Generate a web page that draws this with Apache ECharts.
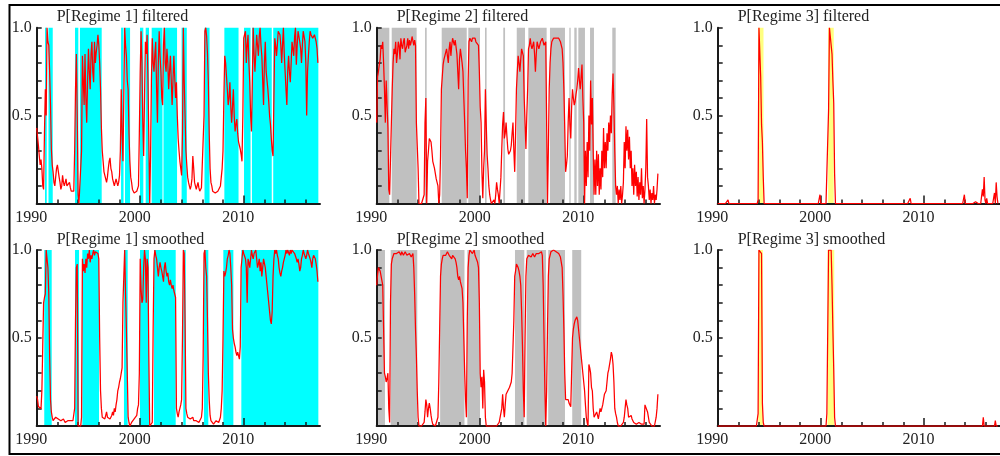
<!DOCTYPE html>
<html><head><meta charset="utf-8">
<script src="https://cdn.jsdelivr.net/npm/echarts@6/dist/echarts.min.js"></script>
<style>html,body{margin:0;padding:0;background:#fff}#c{width:1000px;height:456px}</style>
</head><body><div id="c"></div>
<script>
// ---- data (monthly, Jan 1990 .. Mar 2017) ----
const startYear = 1990;
const xTickYears = [1992,1994,1996,1998,2000,2002,2004,2006,2008,2010,2012,2014,2016];
const xMajorYears = [1990,2000,2010];
const yTickValues = [0.1,0.2,0.3,0.4,0.5,0.6,0.7,0.8,0.9,1.0];
const yLabelValues = [0.5,1.0];
const panelTitles = ['P[Regime 1] filtered','P[Regime 2] filtered','P[Regime 3] filtered',
                     'P[Regime 1] smoothed','P[Regime 2] smoothed','P[Regime 3] smoothed'];

const p1Filtered = [
 .43,.38,.33,.27,.22,.25,.2,.1,.08,.4,.65,.5,
 1.0,.92,.9,.75,.56,.31,.22,.18,.12,.1,.15,.2,
 .22,.21,.15,.12,.08,.1,.16,.12,.1,.12,.14,.1,
 .09,.11,.12,.09,.07,.08,.08,.07,.3,.65,.85,.5,
 .05,0,0,0,.3,.84,.7,.56,.85,.6,.46,.7,
 .88,.75,.65,.85,.92,.75,.69,.92,.8,.86,.9,.96,
 .9,.8,.65,.43,.3,.24,.18,.16,.14,.12,.15,.2,
 .24,.26,.2,.18,.14,.12,.1,.12,.14,.12,.1,.12,
 .16,.3,.65,.4,.24,.6,1.0,.9,.84,.7,.65,.4,
 .24,.15,.12,.08,.07,.06,.07,.07,.07,.08,.1,.4,
 .75,.98,.8,.46,.27,.6,.92,.85,.96,.7,.37,0,
 .27,.7,.94,.8,.75,.85,.92,.65,.46,.8,.98,.84,
 .75,.6,.56,.9,1.0,.8,.75,.88,.8,.65,.75,.84,
 .7,.56,.7,.84,.84,.6,.69,.5,.37,.3,.24,.2,
 .16,.4,1.0,.7,.5,.3,.22,.15,.12,.1,.08,.1,
 .14,.27,.2,.12,.1,.08,.1,.12,.09,.07,.08,.09,
 .08,.09,.5,.98,1.0,.95,.85,.69,.4,.2,.12,.1,
 .07,.06,.06,.06,.06,.07,.07,.07,.08,.1,.15,.2,
 .3,.6,.84,.8,.79,.65,.56,.6,.69,.55,.46,.55,
 .65,.5,.41,.45,.48,.4,.35,.33,.31,.28,.24,.5,
 .94,.96,.98,.8,.9,.96,.8,.69,.5,.41,.7,1.0,
 .85,.75,.85,.96,.9,.84,.95,1.0,.9,.84,.7,.56,
 .8,.92,.75,.7,.65,.58,.5,.45,.37,.3,.27,.6,
 .94,.9,.84,.9,.98,.97,.96,.9,.8,.9,1.0,.85,
 .75,.65,.56,.75,.84,.75,.69,.8,.92,.88,.84,.95,
 1.0,.79,.9,.98,.95,.92,.88,.8,.9,.98,.95,.92,
 .8,.5,.75,.84,.92,.98,.96,.95,.94,.95,.96,.94,
 .92,.88,.8
];
const p2Filtered = [
 .46,.72,.75,.79,.82,.9,.88,.92,.8,.65,.46,.7,
 .56,.43,.08,.05,.06,.46,.65,.8,.88,.85,.92,.8,
 .85,.92,.9,.82,.94,.9,.88,.92,.94,.86,.86,.9,
 .94,.88,.93,.9,.92,.95,.94,.9,.93,.9,.46,.33,
 .2,0,0,0,0,0,0,.05,.46,.6,0,.24,
 .3,.37,.36,.35,.3,.24,.22,.2,.17,.14,.12,.1,
 0,.05,.27,.65,.72,.79,.82,.84,.86,.88,.84,.8,
 .88,.92,.84,.9,.94,.92,.9,.93,.92,.85,.75,.65,
 .82,.88,.84,.8,.75,.6,.46,.3,.2,.03,.7,.92,
 .94,.93,.92,.94,.95,.94,.94,.92,.93,.92,.9,.75,
 .55,.46,.18,.03,.2,.3,.65,.45,.28,.2,.1,.05,
 .02,0,0,0,.02,0,.05,.12,.08,.05,0,0,
 .15,.31,.45,.52,.37,.4,.46,.38,.31,.28,.27,.3,
 .33,.4,.46,.3,.18,.4,.65,.75,.84,.8,.75,.82,
 .88,.86,.84,.6,.46,.31,.5,.65,.88,.9,.94,.9,
 .88,.9,.92,.85,.75,.85,.92,.9,.88,.9,.92,.93,
 .94,.92,.9,.91,.92,.46,0,.3,.65,.8,.88,.92,
 .93,.94,.94,.95,.94,.93,.94,.94,.93,.92,.9,.88,
 .8,.65,.43,.18,.22,.27,.46,.6,.45,.37,.55,.65,
 .6,.56,.58,.62,.65,.7,.77,.7,.65,.72,.79,.6,
 .46,0,.3,.1,.35,.15,.5,.3,.7,.45,.6,.3,
 .05,.25,.05,.3,.1,.28,.05,.2,.08,.3,.15,.43,
 .2,.35,.2,.4,.3,.46,.35,.5,.4,.62,.74,.55,
 .3,.1,.05,.1,0,.08,.02,.1,0,.05,.12,.35,
 .2,.44,.3,.42,.25,.38,.2,.3,.1,.2,.05,.22,
 .1,.18,.04,.15,.02,.12,.05,.2,.03,.1,0,.08,
 .2,.48,.15,.1,.02,.08,0,.06,.02,.1,0,.05,
 .02,.08,.17
];
const p3Filtered = [
 0,0,0,0,0,0,0,0,0,0,0,0,
 .02,0,0,0,0,0,0,0,0,0,0,0,
 0,0,0,0,0,0,0,0,0,0,0,0,
 0,0,0,0,0,0,0,0,0,0,0,.02,
 1,1,.72,.45,.35,.15,0,0,0,0,0,0,
 0,0,0,0,0,0,0,0,0,0,0,0,
 0,0,0,0,0,0,0,0,0,0,0,0,
 0,0,0,0,0,0,0,0,0,0,0,0,
 0,0,0,0,0,0,0,0,0,0,0,0,
 0,0,0,0,0,0,0,0,0,0,0,.05,
 0,0,0,0,0,0,0,0,0,.53,1,1,
 1,.85,.7,.57,.17,0,0,0,0,0,0,0,
 0,0,0,0,0,0,0,0,0,0,0,0,
 0,0,0,0,.01,0,0,0,0,0,0,0,
 0,0,0,0,0,0,0,0,0,0,0,0,
 0,0,0,0,0,0,0,0,0,0,0,0,
 0,0,0,0,0,0,0,0,0,0,0,0,
 0,0,0,0,0,0,0,0,0,0,0,0,
 0,0,0,0,0,0,0,0,.03,0,0,0,
 0,0,0,0,0,0,0,0,0,0,0,0,
 0,0,0,0,0,0,0,0,0,0,0,0,
 0,0,0,0,0,0,0,.01,0,0,0,0,
 0,0,0,0,0,0,0,0,0,0,0,0,
 0,0,0,0,0,0,0,0,0,0,0,.05,
 0,0,0,0,0,0,0,0,0,0,0,0,
 .01,0,0,0,.01,0,0,0,.08,.04,.15,.02,
 0,.03,0,0,0,0,0,0,0,0,.06,0,
 .12,.04,0
];
const p1Smoothed = [
 .17,.15,.11,.1,.1,.1,.2,.45,.7,.73,.75,1.0,
 1.0,.9,.75,.4,.15,.08,.05,.03,.02,.03,.05,.04,
 .05,.04,.03,.04,.03,.02,.03,.04,.03,.02,.03,.03,
 .03,.03,.02,.03,.04,.03,.03,.02,.1,.6,.9,.92,
 0,0,0,0,.05,.95,.88,.92,.87,.95,.9,.98,
 .95,1.0,.93,.97,.95,.98,1.0,.97,.99,1.0,1.0,.98,
 .95,.5,.2,.1,.05,.04,.05,.04,.06,.08,.05,.04,
 .05,.04,.05,.06,.08,.06,.1,.08,.12,.15,.2,.22,
 .25,.27,.3,.33,.7,.85,1.0,.75,.55,.3,.05,.02,
 0,.01,.02,.03,.02,.04,.05,.04,.06,.1,.12,.3,
 .95,.78,.7,.72,.9,1.0,.95,.7,.95,.9,.4,0,
 0,0,.02,.55,.95,1.0,.97,.95,.9,.85,.9,.93,
 .9,.88,.85,.82,.9,.93,.88,.85,.87,.82,.8,.83,
 .8,.78,.8,.77,.75,.73,.1,.07,.05,.08,.1,.12,
 .15,.5,1.0,.98,.6,.1,.07,.05,.04,.05,.04,.05,
 .04,.05,.03,.04,.02,.03,.04,.03,.02,.03,.02,.05,
 .1,.4,.98,1.0,.9,.85,.6,.3,.15,.06,.03,.02,
 .02,.01,.02,.02,.03,.02,.03,.02,.03,.05,.1,.2,
 .5,.88,.85,.87,.9,.95,.97,1.0,.98,.9,.8,.55,
 .5,.47,.45,.42,.4,.42,.4,.38,.45,.9,.95,1.0,
 .98,.97,.95,.9,.7,.95,.93,.9,.95,1.0,.97,.95,
 .98,.97,1.0,.95,.9,.92,.95,.88,.93,.85,.9,.95,
 .95,.9,.85,.8,.75,.7,.65,.6,.58,.65,.85,.95,
 1.0,.98,1.0,.97,.95,.9,.87,.85,.88,.9,.93,.95,
 .97,1.0,.98,1.0,.99,.97,1.0,.98,1.0,.99,1.0,.98,
 .97,.95,.93,.95,.92,.88,.9,.95,.97,1.0,.98,.97,
 .95,.97,1.0,.98,.97,.95,.93,.9,.95,.97,.98,.95,
 .92,.88,.82
];
const p2Smoothed = [
 .8,.86,.9,.9,.88,.89,.88,.8,.55,.3,.28,.25,
 .27,.3,.1,.02,.7,.92,.95,.96,.98,.97,.99,.98,
 .97,.98,.99,.98,.97,.99,.98,.97,.98,.99,.98,.97,
 .98,.97,.98,.97,.96,.97,.98,.9,.75,.55,.4,.2,
 .05,0,0,0,0,0,0,.02,.08,.15,.12,.05,
 .1,.13,.1,.06,.03,.01,0,0,0,0,0,.05,
 .25,.55,.85,.92,.95,.97,.98,.96,.97,.98,.99,.98,
 .97,.98,.96,.95,.97,.98,.96,.95,.93,.9,.85,.83,
 .85,.82,.8,.78,.7,.5,.3,.15,.05,.6,.9,.97,
 1.0,.99,1.0,.98,.99,1.0,.97,.98,.96,.93,.9,.7,
 .3,.22,.28,.1,.32,.25,.05,0,0,0,0,0,
 0,0,0,0,0,0,0,0,0,.01,.02,.01,
 .02,.1,.18,.1,.05,.12,.18,.19,.2,.21,.22,.23,
 .25,.3,.45,.6,.85,.88,.92,.91,.9,.88,.85,.8,
 .65,.45,.2,.05,.5,.85,.95,.96,.97,.98,.97,.96,
 .97,.98,.97,.96,.97,.98,.97,.99,.98,.97,.98,.99,
 .97,.8,.5,.2,0,.2,.55,.85,.95,.97,.99,1.0,
 1.0,1.0,1.0,1.0,.99,1.0,1.0,.98,.97,.96,.93,.9,
 .75,.55,.3,.15,.14,.16,.15,.13,.12,.11,.1,.5,
 .55,.58,.6,.6,.62,.6,.55,.5,.45,.4,.35,.3,
 .25,.2,.12,.05,.02,0,.35,.33,.3,.22,.2,.1,
 .05,.06,.05,.08,.06,.04,.05,.1,.08,.07,.12,.15,
 .18,.19,.2,.25,.3,.32,.35,.38,.42,.4,.35,.25,
 .1,.07,.05,.02,0,0,0,0,0,.01,.02,.05,
 .1,.15,.12,.1,.05,.06,.05,.06,.04,.05,.02,.03,
 .02,.01,.02,.01,.02,.01,.02,.01,.01,.02,.01,.12,
 .13,.12,.08,.05,.02,.01,.01,0,.01,0,0,.01,
 .05,.1,.18
];
const p3Smoothed = [
 0,0,0,0,0,0,0,0,0,0,0,0,
 0,0,0,0,0,0,0,0,0,0,0,0,
 0,0,0,0,0,0,0,0,0,0,0,0,
 0,0,0,0,0,0,0,0,0,0,0,.07,
 1,1,1,.98,.13,.02,0,0,0,0,0,0,
 0,0,0,0,0,0,0,0,0,0,0,0,
 0,0,0,0,0,0,0,0,0,0,0,0,
 0,0,0,0,0,0,0,0,0,0,0,0,
 0,0,0,0,0,0,0,0,0,0,0,0,
 0,0,0,0,0,0,0,0,0,0,0,0,
 0,0,0,0,0,0,0,.07,.07,1,1,1,
 1,.8,.55,.32,.05,0,0,0,0,0,0,0,
 0,0,0,0,0,0,0,0,0,0,0,0,
 0,0,0,0,0,0,0,0,0,0,0,0,
 0,0,0,0,0,0,0,0,0,0,0,0,
 0,0,0,0,0,0,0,0,0,0,0,0,
 0,0,0,0,0,0,0,0,0,0,0,0,
 0,0,0,0,0,0,0,0,0,0,0,0,
 0,0,0,0,0,0,0,0,0,0,0,0,
 0,0,0,0,0,0,0,0,0,0,0,0,
 0,0,0,0,0,0,0,0,0,0,0,0,
 0,0,0,0,0,0,0,0,0,0,0,0,
 0,0,0,0,0,0,0,0,0,0,0,0,
 0,0,0,0,0,0,0,0,0,0,0,0,
 0,0,0,0,0,0,0,0,0,0,0,0,
 0,0,0,0,0,0,0,0,0,.05,0,0,
 0,0,0,0,0,0,0,0,0,0,0,.03,
 0,0,0
];

// regime classification bands [start, end] in years
const p1FilteredBands = [[1990.80,1990.97],[1991.14,1991.55],[1993.70,1994.02],[1994.18,1996.28],
 [1998.15,1998.39],[1998.53,1999.02],[1999.98,2000.30],[2000.53,2000.85],[2001.11,2002.15],
 [2002.25,2003.56],[2004.00,2004.50],[2006.21,2006.70],[2008.13,2009.50],[2010.03,2010.66],
 [2010.80,2012.71],[2012.85,2017.21]];
const p2FilteredBands = [[1990.0,1991.22],[1991.45,1993.86],[1994.67,1994.83],[1996.28,1998.70],
 [1998.85,1999.98],[2000.46,2000.62],[2002.23,2002.40],[2003.53,2004.33],[2004.65,2006.42],
 [2006.74,2008.19],[2008.61,2008.74],[2009.09,2009.32],[2009.48,2010.12],[2010.61,2010.99],
 [2012.76,2013.09]];
const p3FilteredBands = [[1993.92,1994.44],[2000.71,2001.25]];
const p1SmoothedBands = [[1990.73,1991.45],[1993.70,1994.09],[1994.41,1996.02],[1998.43,1998.79],
 [1999.98,2000.85],[2001.33,2003.43],[2004.16,2004.40],[2006.16,2006.58],[2008.03,2009.00],
 [2009.77,2017.21]];
const p2SmoothedBands = [[1990.0,1990.80],[1991.35,1993.92],[1996.13,1998.48],[1998.76,1999.98],
 [2003.36,2004.26],[2004.49,2006.36],[2006.57,2008.19],[2008.89,2009.76]];
const p3SmoothedBands = [[1993.93,1994.38],[2000.65,2001.30]];

const bandColors = ['#00ffff','#c0c0c0','#ffff80','#00ffff','#c0c0c0','#ffff80'];
const seriesValues = [p1Filtered,p2Filtered,p3Filtered,p1Smoothed,p2Smoothed,p3Smoothed];
const seriesBands = [p1FilteredBands,p2FilteredBands,p3FilteredBands,p1SmoothedBands,p2SmoothedBands,p3SmoothedBands];

// ---- layout ----
const gridLefts = [36.7, 376.7, 717.7];
const gridTops = [27.7, 250];
const gridHeights = [175.8, 176];
const gridWidth = 283.3;
const xMax = 2017.37;
const axisColor = '#1a1a1a';
const textColor = '#222';
const fontFamily = '"Liberation Serif","Times New Roman",serif';

const option = {animation:false, grid:[], xAxis:[], yAxis:[], series:[], graphic:[]};

seriesValues.forEach((vals, i) => {
  const col = i % 3, row = Math.floor(i / 3);
  option.grid.push({left:gridLefts[col], top:gridTops[row], width:gridWidth, height:gridHeights[row]});
  const xBase = {type:'value', gridIndex:i, min:startYear, max:xMax, position:'bottom', splitLine:{show:false}, z:1};
  option.xAxis.push(Object.assign({}, xBase, {
    axisLine:{show:true, onZero:false, lineStyle:{color:axisColor, width:2}},
    axisTick:{show:true, inside:true, length:4, customValues:xTickYears, lineStyle:{color:axisColor, width:1.5}},
    axisLabel:{show:true, customValues:xMajorYears, formatter:v => String(Math.round(v)),
      fontFamily:fontFamily, fontSize:16, color:textColor, margin:6, padding:[0,11,0,0]}
  }));
  option.xAxis.push(Object.assign({}, xBase, {
    axisLine:{show:false},
    axisTick:{show:true, inside:true, length:8, customValues:xMajorYears, lineStyle:{color:axisColor, width:1.5}},
    axisLabel:{show:false}
  }));
  option.yAxis.push({type:'value', gridIndex:i, min:0, max:1, splitLine:{show:false}, z:1,
    axisLine:{show:true, onZero:false, lineStyle:{color:axisColor, width:2}},
    axisTick:{show:true, inside:true, length:5, customValues:yTickValues, lineStyle:{color:axisColor, width:1.5}},
    axisLabel:{show:true, customValues:yLabelValues, formatter:v => v.toFixed(1),
      fontFamily:fontFamily, fontSize:16, color:textColor, margin:5}
  });
  const color = bandColors[i];
  option.series.push({
    type:'custom', xAxisIndex:2*i, yAxisIndex:i, z:0, silent:true,
    data: seriesBands[i],
    renderItem:(params, api) => {
      const a = api.coord([api.value(0), 1]);
      const b = api.coord([api.value(1), 0]);
      return {type:'rect', shape:{x:a[0], y:a[1], width:b[0]-a[0], height:b[1]-a[1]}, style:{fill:color}};
    }
  });
  option.series.push({
    type:'line', xAxisIndex:2*i, yAxisIndex:i, z:3, showSymbol:false, symbol:'none', silent:true,
    data: vals.map((v, m) => [startYear + m / 12, v]),
    lineStyle:{color:'#ff0000', width:1.25}
  });
  option.graphic.push({type:'text', x:gridLefts[col] + 20, y:row === 0 ? 16.5 : 240,
    style:{text:panelTitles[i], font:'16px ' + fontFamily, fill:textColor, verticalAlign:'middle'}});
});
option.graphic.push({type:'rect', shape:{x:9.5, y:5, width:1000, height:449},
  style:{fill:null, stroke:'#000', lineWidth:2}, z:10});

const chart = echarts.init(document.getElementById('c'), null, {renderer:'canvas'});
chart.setOption(option);
</script>
</body></html>
